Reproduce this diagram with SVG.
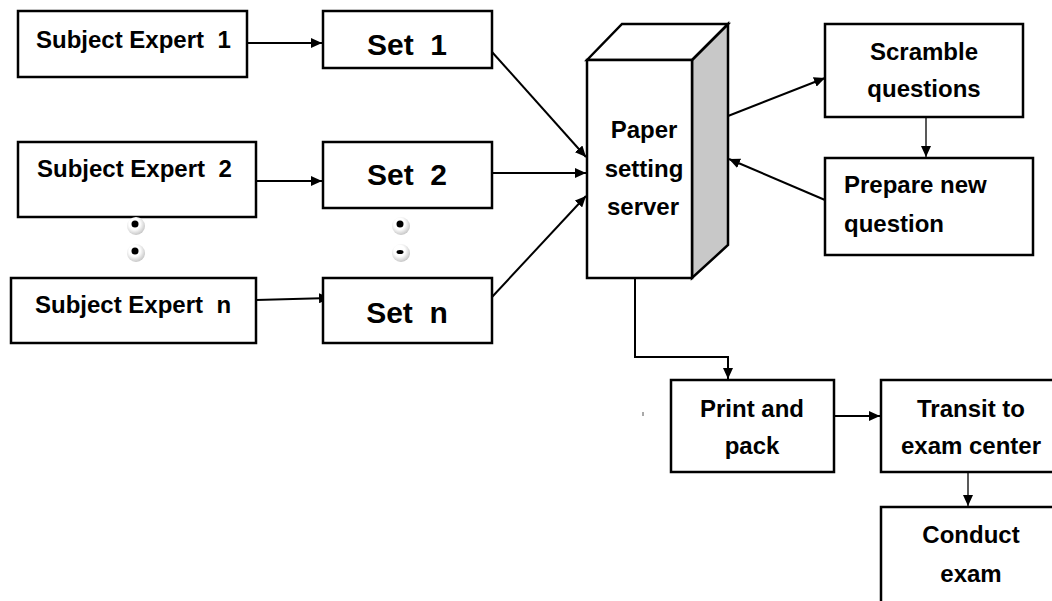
<svg xmlns="http://www.w3.org/2000/svg" width="1052" height="601" viewBox="0 0 1052 601">
<defs>
<style>
text{white-space:pre}
.box{fill:#fff;stroke:#000;stroke-width:2.5}
.t{font-family:"Liberation Sans",Arial,sans-serif;font-weight:bold;font-size:24px;fill:#000}
.ts{font-family:"Liberation Sans",Arial,sans-serif;font-weight:bold;font-size:30px;fill:#000;text-anchor:middle}
.c{text-anchor:middle}
.ln{fill:none;stroke:#000;stroke-width:2}
.thin{fill:none;stroke:#222;stroke-width:1.5}
</style>
<marker id="ah" markerUnits="userSpaceOnUse" markerWidth="11" markerHeight="10" refX="11" refY="5" orient="auto">
<path d="M0,0 L11,5 L0,10 z" fill="#000"/>
</marker>
<radialGradient id="dg" cx="0.42" cy="0.38" r="0.62">
<stop offset="0.5" stop-color="#fff"/>
<stop offset="1" stop-color="#c8c8c8"/>
</radialGradient>
</defs>

<g id="connectors">
<line class="ln" x1="247" y1="43" x2="322" y2="43" marker-end="url(#ah)"/>
<line class="ln" x1="256" y1="181" x2="322" y2="181" marker-end="url(#ah)"/>
<line class="ln" x1="256" y1="300" x2="330" y2="298" marker-end="url(#ah)"/>
<line class="ln" x1="492" y1="52" x2="586" y2="157" marker-end="url(#ah)"/>
<line class="ln" x1="492" y1="173" x2="586" y2="173" marker-end="url(#ah)"/>
<line class="ln" x1="492" y1="297" x2="586" y2="196" marker-end="url(#ah)"/>
<line class="ln" x1="728" y1="116" x2="825" y2="78" marker-end="url(#ah)"/>
<line class="ln" x1="825" y1="200" x2="729" y2="159" marker-end="url(#ah)"/>
<line class="thin" x1="926" y1="117" x2="926" y2="157" marker-end="url(#ah)"/>
<polyline class="ln" points="635,278 635,357 728,357 728,379" marker-end="url(#ah)"/>
<line class="ln" x1="834" y1="416" x2="880" y2="416" marker-end="url(#ah)"/>
<line class="thin" x1="968" y1="472" x2="968" y2="506" marker-end="url(#ah)"/>
</g>

<g id="se1"><rect class="box" x="18" y="11" width="229" height="66"/><text class="t" x="36" y="48" xml:space="preserve">Subject Expert  1</text></g>
<g id="se2"><rect class="box" x="18" y="142" width="238" height="75"/><text class="t" x="37" y="177" xml:space="preserve">Subject Expert  2</text></g>
<g id="sen"><rect class="box" x="11" y="278" width="245" height="65"/><text class="t" x="35" y="313" xml:space="preserve">Subject Expert  n</text></g>

<g id="set1"><rect class="box" x="323" y="11" width="169" height="57"/><text class="ts" x="407" y="55" xml:space="preserve">Set  1</text></g>
<g id="set2"><rect class="box" x="323" y="142" width="169" height="66"/><text class="ts" x="407" y="185" xml:space="preserve">Set  2</text></g>
<g id="setn"><rect class="box" x="323" y="278" width="169" height="65"/><text class="ts" x="407" y="323" xml:space="preserve">Set  n</text></g>

<g id="dots">
<circle cx="136" cy="226" r="9" fill="url(#dg)"/><circle cx="135" cy="224" r="3.5" fill="#000"/>
<circle cx="136" cy="253" r="9" fill="url(#dg)"/><circle cx="135" cy="251" r="3.5" fill="#000"/>
<circle cx="401" cy="226" r="9" fill="url(#dg)"/><circle cx="400" cy="224" r="3.5" fill="#000"/>
<circle cx="401" cy="253" r="9" fill="url(#dg)"/><ellipse cx="400" cy="252" rx="3.5" ry="2" fill="#000"/>
</g>

<g id="server">
<polygon points="692,60 728,24 728,245 692,278" fill="#c8c8c8" stroke="#000" stroke-width="2.5" stroke-linejoin="miter"/>
<polygon points="587,60 622,24 728,24 692,60" fill="#fff" stroke="#000" stroke-width="2.5"/>
<rect class="box" x="587" y="60" width="105" height="218"/>
<text class="t c" x="644" y="138">Paper</text>
<text class="t c" x="644" y="177">setting</text>
<text class="t c" x="643" y="215">server</text>
</g>

<g id="scramble"><rect class="box" x="825" y="24" width="198" height="93"/><text class="t c" x="924" y="60">Scramble</text><text class="t c" x="924" y="97">questions</text></g>
<g id="prepare"><rect class="box" x="825" y="158" width="208" height="97"/><text class="t" x="844" y="193">Prepare new</text><text class="t" x="844" y="232">question</text></g>

<g id="print"><rect class="box" x="671" y="380" width="163" height="92"/><text class="t c" x="752" y="417">Print and</text><text class="t c" x="752" y="454">pack</text></g>
<g id="transit"><rect class="box" x="881" y="380" width="180" height="92"/><text class="t c" x="971" y="417">Transit to</text><text class="t c" x="971" y="454">exam center</text></g>
<g id="conduct"><rect class="box" x="881" y="507" width="180" height="110"/><text class="t c" x="971" y="543">Conduct</text><text class="t c" x="971" y="582">exam</text></g>

<line x1="643" y1="412" x2="643" y2="416" stroke="#555" stroke-width="1"/>
</svg>
